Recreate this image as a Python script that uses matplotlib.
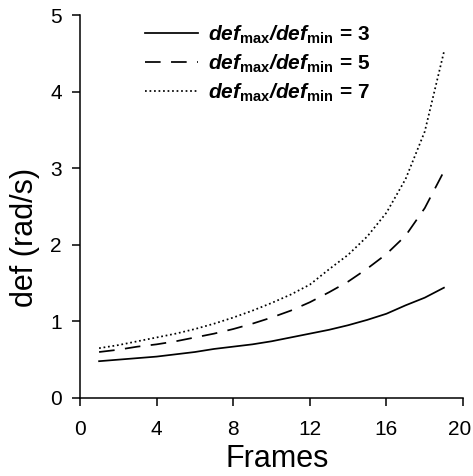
import numpy as np
import matplotlib
matplotlib.use("Agg")
import matplotlib.pyplot as plt
import matplotlib.transforms as mtransforms

plt.rcParams['font.family'] = ['Liberation Sans', 'DejaVu Sans']
plt.rcParams['mathtext.fontset'] = 'custom'
plt.rcParams['mathtext.rm'] = 'Liberation Sans'
plt.rcParams['mathtext.bf'] = 'Liberation Sans:bold'
plt.rcParams['mathtext.bfit'] = 'Liberation Sans:italic:bold'

# angular velocity per frame for three max/min ratios
frames = np.arange(1, 20)
def_r3 = [0.48, 0.50, 0.52, 0.54, 0.57, 0.60, 0.64, 0.67, 0.70, 0.74,
          0.79, 0.84, 0.89, 0.95, 1.02, 1.10, 1.21, 1.31, 1.44]
def_r5 = [0.60, 0.63, 0.67, 0.70, 0.74, 0.79, 0.84, 0.90, 0.97, 1.05,
          1.14, 1.25, 1.38, 1.52, 1.69, 1.88, 2.12, 2.48, 2.96]
def_r7 = [0.65, 0.69, 0.74, 0.79, 0.84, 0.90, 0.97, 1.05, 1.14, 1.24,
          1.35, 1.48, 1.68, 1.87, 2.11, 2.42, 2.86, 3.48, 4.52]
ratios = [3, 5, 7]

fig = plt.figure(figsize=(4.73, 4.76), dpi=100)
ax = fig.add_axes([0.169, 0.164, 0.81, 0.804])

styles = ['-', (0, (9, 6)), (0, (1, 1.6))]
for r, y, ls in zip(ratios, [def_r3, def_r5, def_r7], styles):
    lab = r'$\mathbfit{def}_{\mathbf{max}}\mathbfit{/def}_{\mathbf{min}}$' + ' = %d' % r
    ax.plot(frames, y, color='black', linestyle=ls, linewidth=1.25, label=lab)

ax.set_xlim(0, 20)
ax.set_ylim(0, 5)
ax.set_xticks([0, 4, 8, 12, 16, 20])
ax.set_yticks([0, 1, 2, 3, 4, 5])
ax.spines['top'].set_visible(False)
ax.spines['right'].set_visible(False)
for s in ['left', 'bottom']:
    ax.spines[s].set_linewidth(1.1)
ax.tick_params(direction='out', length=6, width=1.1, labelsize=15)
ax.tick_params(axis='x', pad=10)
ax.tick_params(axis='y', pad=7)

# nudge the last x label so it stays inside the figure
fig.canvas.draw()
last = ax.get_xticklabels()[-1]
last.set_transform(last.get_transform() +
                   mtransforms.ScaledTranslation(-3 / 100, 0, fig.dpi_scale_trans))

ax.set_xlabel('Frames', fontsize=22)
ax.set_ylabel('def (rad/s)', fontsize=22)
ax.xaxis.set_label_coords(0.514, -0.12)
ax.yaxis.set_label_coords(-0.105, 0.42)

leg = ax.legend(loc='upper left', bbox_to_anchor=(0.17, 0.979), frameon=False,
                borderpad=0, borderaxespad=0, handlelength=2.55,
                handletextpad=0.45, labelspacing=0.3,
                prop={'size': 15, 'weight': 'bold'})

fig.savefig('out.png', dpi=100)
